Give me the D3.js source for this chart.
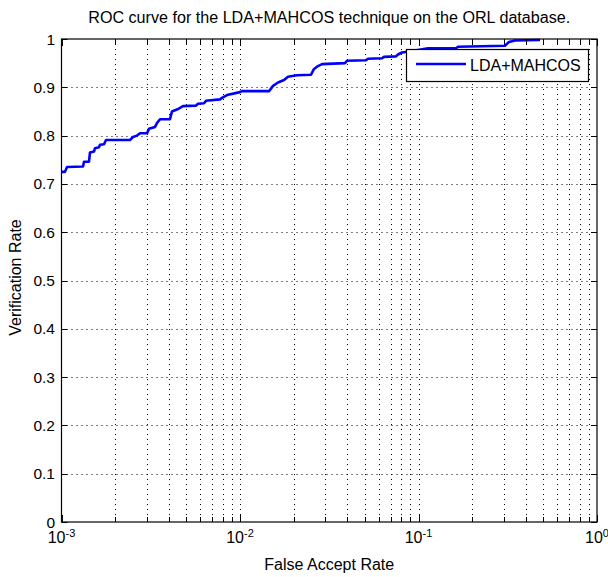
<!DOCTYPE html>
<html>
<head>
<meta charset="utf-8">
<script src="https://cdn.jsdelivr.net/npm/d3@7"></script>
<style>
html,body{margin:0;padding:0;background:#fff;}
svg{display:block;}
text{font-family:"Liberation Sans",Arial,sans-serif;fill:#000;}
</style>
</head>
<body>
<svg id="chart" width="608" height="577"></svg>
<script>
// Data
const far = [0.001,0.001046,0.001074,0.001320,0.001337,0.001426,0.001444,0.001521,0.001541,0.001622,0.001643,0.001730,0.001776,
  0.002420,0.002515,0.002649,0.002753,0.003013,0.003092,0.003341,0.003428,0.003563,0.004053,0.004159,0.004494,0.004795,
  0.005668,0.005816,0.006286,0.006450,0.007727,0.007929,0.008458,0.01,0.01026,0.01454,0.01531,0.01633,0.01764,0.01858,
  0.02086,0.02499,0.02598,0.02735,0.02880,0.03874,0.03976,0.05081,0.05214,0.06244,0.06407,0.07479,0.07675,0.08083,
  0.09559,0.1130,0.1623,0.1665,0.3051,0.3214,0.3472,0.4795];
const vr = [0.725,0.725,0.735,0.736,0.746,0.746,0.765,0.767,0.774,0.776,0.781,0.782,0.791,
  0.791,0.797,0.800,0.805,0.805,0.814,0.818,0.826,0.834,0.834,0.850,0.855,0.861,
  0.862,0.866,0.867,0.872,0.875,0.878,0.884,0.890,0.892,0.892,0.903,0.910,0.915,0.922,
  0.925,0.926,0.938,0.944,0.948,0.950,0.955,0.956,0.959,0.960,0.963,0.964,0.968,0.972,
  0.976,0.981,0.981,0.984,0.986,0.994,0.997,0.998];
const seriesName = "LDA+MAHCOS";
const xDecades = [0.001, 0.01, 0.1, 1];
const xExponents = ["-3", "-2", "-1", "0"];
const yTicks = [0,0.1,0.2,0.3,0.4,0.5,0.6,0.7,0.8,0.9,1];
const yTickLabels = ["0","0.1","0.2","0.3","0.4","0.5","0.6","0.7","0.8","0.9","1"];
const titleText = "ROC curve for the LDA+MAHCOS technique on the ORL database.";
const xLabel = "False Accept Rate";
const yLabel = "Verification Rate";

const L = 61.5, R = 597, T = 39, B = 522;
const svg = d3.select("#chart");
const x = d3.scaleLog().domain([0.001, 1]).range([L, R]);
const y = d3.scaleLinear().domain([0, 1]).range([B, T]);

// minor positions
const minors = [];
for (let i = 0; i < 3; i++) for (let m = 2; m <= 9; m++) minors.push(xDecades[i] * m);
const allX = xDecades.concat(minors);

// grid
const grid = svg.append("g").attr("stroke", "#000").attr("stroke-width", 1).attr("stroke-dasharray", "1,4");
allX.filter(v => v > 0.001 && v < 1).forEach(v => {
  const px = Math.round(x(v)) + 0.5;
  grid.append("line").attr("x1", px).attr("x2", px).attr("y1", T).attr("y2", B);
});
yTicks.filter(v => v > 0 && v < 1).forEach(v => {
  const py = Math.round(y(v)) + 0.5;
  grid.append("line").attr("x1", L).attr("x2", R).attr("y1", py).attr("y2", py);
});

// curve
const line = d3.line().x((d, i) => x(far[i])).y((d, i) => y(vr[i]));
svg.append("path").datum(far).attr("d", line).attr("fill", "none")
  .attr("stroke", "#0000ff").attr("stroke-width", 2.6).attr("stroke-linejoin", "round");

// ticks
const tk = svg.append("g").attr("stroke", "#000").attr("stroke-width", 1);
allX.forEach(v => {
  const px = Math.round(x(v)) + 0.5;
  const len = xDecades.includes(v) ? 7 : 5;
  tk.append("line").attr("x1", px).attr("x2", px).attr("y1", B).attr("y2", B - len);
  tk.append("line").attr("x1", px).attr("x2", px).attr("y1", T).attr("y2", T + len);
});
yTicks.forEach(v => {
  const py = Math.round(y(v)) + 0.5;
  tk.append("line").attr("x1", L).attr("x2", L + 6).attr("y1", py).attr("y2", py);
  tk.append("line").attr("x1", R).attr("x2", R - 6).attr("y1", py).attr("y2", py);
});

// box
svg.append("rect").attr("x", L).attr("y", T).attr("width", R - L).attr("height", B - T)
  .attr("fill", "none").attr("stroke", "#000").attr("stroke-width", 1.2);

// y tick labels
yTicks.forEach((v, i) => {
  svg.append("text").attr("x", 55).attr("y", y(v) + 5.5).attr("text-anchor", "end")
    .attr("font-size", 15.5).text(yTickLabels[i]);
});
// x tick labels
xDecades.forEach((v, i) => {
  const t = svg.append("text").attr("x", x(v)).attr("y", 543).attr("text-anchor", "middle").attr("font-size", 16);
  t.append("tspan").text("10");
  t.append("tspan").attr("dy", -6).attr("font-size", 11).text(xExponents[i]);
});

// labels
svg.append("text").attr("x", (L + R) / 2).attr("y", 23).attr("text-anchor", "middle").attr("font-size", 16)
  .attr("textLength", 482).attr("lengthAdjust", "spacingAndGlyphs").text(titleText);
svg.append("text").attr("x", (L + R) / 2).attr("y", 570).attr("text-anchor", "middle").attr("font-size", 16).text(xLabel);
svg.append("text").attr("transform", `translate(21,${(T + B) / 2 - 3}) rotate(-90)`).attr("text-anchor", "middle")
  .attr("font-size", 16).text(yLabel);

// legend
const lg = svg.append("g");
lg.append("rect").attr("x", 406.5).attr("y", 49.5).attr("width", 182).attr("height", 32)
  .attr("fill", "#fff").attr("stroke", "#000").attr("stroke-width", 1.2);
lg.append("line").attr("x1", 416).attr("x2", 466).attr("y1", 64).attr("y2", 64)
  .attr("stroke", "#0000ff").attr("stroke-width", 2.6);
lg.append("text").attr("x", 470).attr("y", 70.5).attr("font-size", 16).text(seriesName);
</script>
</body>
</html>
